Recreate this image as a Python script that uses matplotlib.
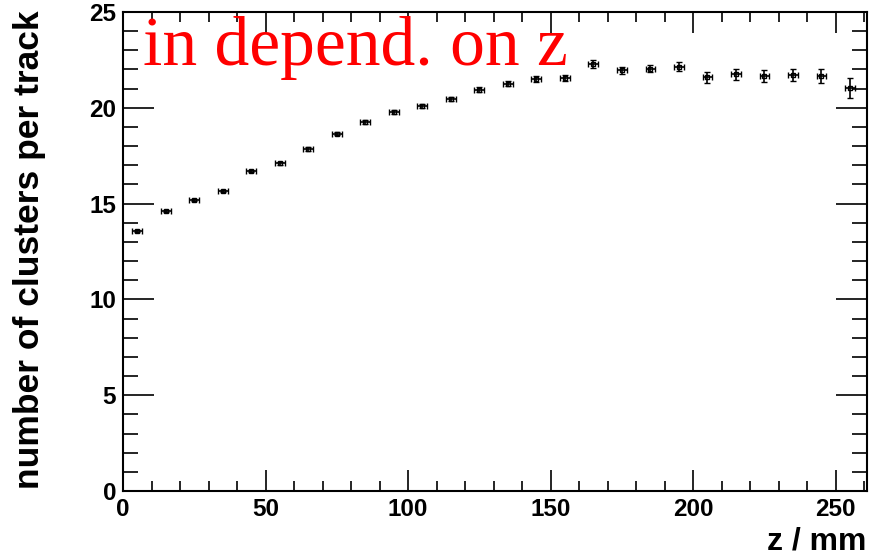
import matplotlib
matplotlib.use("Agg")
import matplotlib.pyplot as plt
from matplotlib.ticker import MultipleLocator

# z bin centres (mm) and mean number of clusters per track
z = [5, 15, 25, 35, 45, 55, 65, 75, 85, 95, 105, 115, 125,
     135, 145, 155, 165, 175, 185, 195, 205, 215, 225, 235, 245, 255]
clusters = [13.55, 14.6, 15.2, 15.65, 16.7, 17.1, 17.85, 18.65, 19.25, 19.8,
            20.1, 20.45, 20.95, 21.25, 21.5, 21.55, 22.3, 21.95, 22.05, 22.15,
            21.6, 21.75, 21.65, 21.7, 21.65, 21.05]
cl_err = [0.05, 0.05, 0.06, 0.06, 0.07, 0.07, 0.08, 0.08, 0.09, 0.1,
          0.1, 0.11, 0.12, 0.13, 0.14, 0.15, 0.2, 0.2, 0.2, 0.22,
          0.28, 0.28, 0.3, 0.32, 0.35, 0.52]
z_err = 1.7

plt.rcParams['font.family'] = ['Liberation Sans', 'DejaVu Sans']

fig = plt.figure(figsize=(8.71, 5.58), dpi=100)
ax = fig.add_axes([123/871, 1 - 491/558, (867-123)/871, (491-12)/558])

ax.errorbar(z, clusters, yerr=cl_err, xerr=z_err, fmt='s', ms=3.5,
            mfc='none', mec='black', mew=1.0, ecolor='black',
            elinewidth=1.2, capsize=2.2, capthick=1.2)

ax.set_xlim(0, 261)
ax.set_ylim(0, 25)
ax.xaxis.set_major_locator(MultipleLocator(50))
ax.xaxis.set_minor_locator(MultipleLocator(10))
ax.yaxis.set_major_locator(MultipleLocator(5))
ax.yaxis.set_minor_locator(MultipleLocator(1))

ax.tick_params(axis='both', which='both', direction='in', top=True, right=True,
               labelsize=17.5, width=1.2)
ax.tick_params(axis='x', which='major', length=15, pad=5)
ax.tick_params(axis='x', which='minor', length=7.5)
ax.tick_params(axis='y', which='major', length=22, pad=5)
ax.tick_params(axis='y', which='minor', length=11)
for lab in ax.get_xticklabels() + ax.get_yticklabels():
    lab.set_fontweight('bold')
for s in ax.spines.values():
    s.set_linewidth(1.5)

fig.text(30/871, 1 - 10/558, 'number of clusters per track', fontsize=25.5,
         fontweight='bold', rotation=90, ha='center', va='top')
fig.text(866/871, 1 - 550/558, 'z / mm', fontsize=23, fontweight='bold',
         ha='right', va='baseline')

fig.text(143/871, 1 - 65/558, 'in depend. on z', color='red', fontsize=50,
         family=['Liberation Serif', 'DejaVu Serif'], ha='left', va='baseline')

fig.savefig('out.png', dpi=100)
